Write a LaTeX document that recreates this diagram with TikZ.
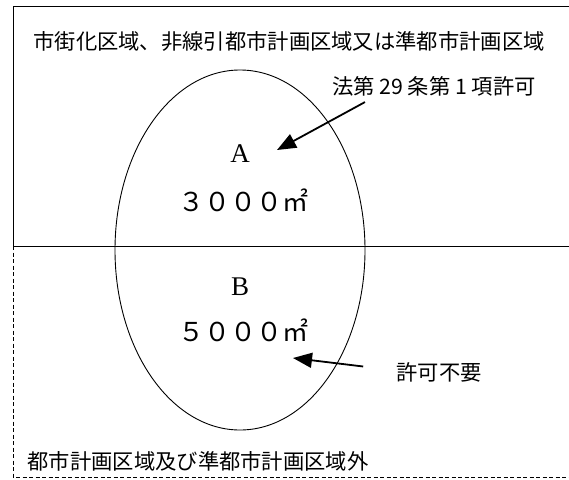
\documentclass[tikz,border=0pt]{standalone}
\usepackage{fontspec}
\setmainfont{Liberation Serif}
\newfontfamily\jp{Noto Sans CJK JP}
\usetikzlibrary{shapes.geometric, arrows.meta}

\begin{document}
\begin{tikzpicture}[
  x=1pt, y=-1pt,
  zone/.style={draw, line width=1pt},
  outzone/.style={draw, line width=1pt, dash pattern=on 4pt off 2.5pt},
  site/.style={ellipse, draw, line width=0.9pt, minimum width=250pt,
               minimum height=360pt, inner sep=0pt},
  lbl/.style={inner sep=0pt, font=\jp\fontsize{21.3}{24}\selectfont},
  letter/.style={inner sep=0pt, font=\fontsize{27}{30}\selectfont},
  area/.style={inner sep=0pt, font=\jp\fontsize{26}{30}\selectfont},
  arr/.style={-{Triangle[length=19pt, width=15pt]}, line width=1.8pt},
]
\clip (0,0) rectangle (569,479);
\fill[white] (0,0) rectangle (569,479);

% zones
\draw[zone] (13,6) rectangle (590,246);
\draw[outzone] (13,246) -- (13,477) -- (590,477);
\node[site] (site) at (240,250) {};

% labels
\node[lbl] (urban) at (289,41) {市街化区域、非線引都市計画区域又は準都市計画区域};
\node[lbl] (permit) at (434,86) {法第 29 条第 1 項許可};
\node[lbl] (free) at (439,372) {許可不要};
\node[lbl] (outside) at (198,461) {都市計画区域及び準都市計画区域外};

\node[letter] (a) at (240,154) {A};
\node[area] (a-size) at (243,200) {３０００㎡};
\node[letter] (b) at (240,287) {B};
\node[area] (b-size) at (243,330) {５０００㎡};

% arrows
\coordinate (a-tip) at (277,150);
\coordinate (b-tip) at (293,358);
\draw[arr] ([xshift=33pt, yshift=-6pt]permit.south west) -- (a-tip);
\draw[arr] ([xshift=-33pt, yshift=5.5pt]free.west) -- (b-tip);
\end{tikzpicture}
\end{document}
